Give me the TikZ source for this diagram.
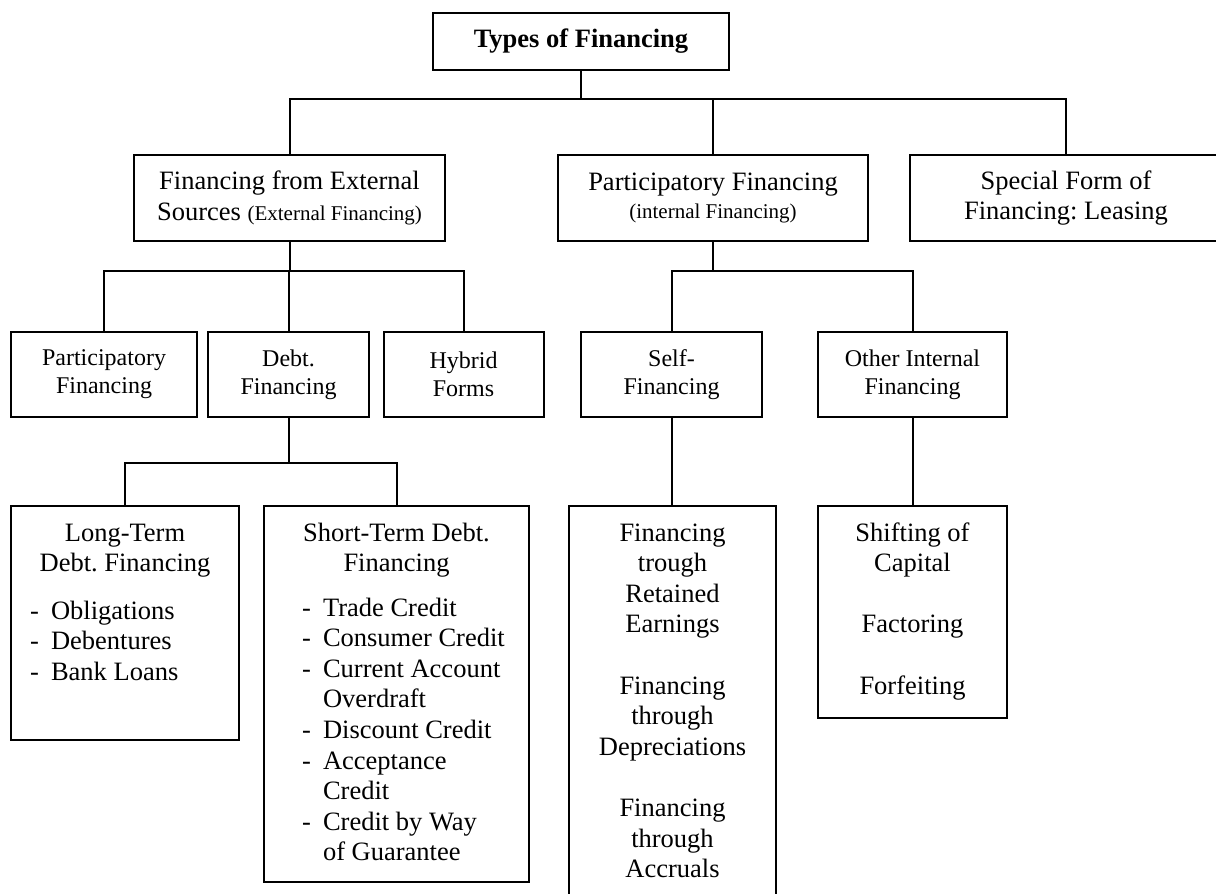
\documentclass[tikz,border=0pt]{standalone}
\usepackage{fontspec}
\setmainfont{Liberation Serif}
\frenchspacing
\newcommand{\toplines}[1]{\begin{tabular}[t]{@{}c@{}}#1\end{tabular}}
\newcommand{\dashlist}[1]{\begin{tabular}[t]{@{}l@{\hspace{12pt}}l@{}}#1\end{tabular}}
\begin{document}
\frenchspacing
\begin{tikzpicture}[x=1pt,y=-1pt,
  box/.style={draw, line width=2pt, inner sep=0pt, align=center},
  conn/.style={line width=2pt},
  big/.style={font=\fontsize{26.5}{30.6}\selectfont},
  mid/.style={font=\fontsize{24}{28}\selectfont},
  txt/.style={inner sep=0pt, big}]
\clip (0,0) rectangle (1216,894);
\fill[white] (0,0) rectangle (1216,894);
% level 1
\node[box, minimum width=296pt, minimum height=57pt, font=\fontsize{26.5}{30.6}\selectfont\bfseries] (top) at (581,41.5) {Types of Financing};
% level 2
\node[box, big, minimum width=311pt, minimum height=86pt] (A) at (289.5,198)
  {Financing from External\\ Sources {\fontsize{21}{24}\selectfont (External Financing)}};
\node[box, big, minimum width=310pt, minimum height=86pt] (B) at (713,198)
  {Participatory Financing\\[-3pt] {\fontsize{21}{24}\selectfont (internal Financing)}};
\node[box, big, minimum width=312pt, minimum height=86pt] (C) at (1066,198)
  {Special Form of\\ Financing: Leasing};
% level 3
\node[box, mid, minimum width=186pt, minimum height=85pt] (P) at (104,374.5) {Participatory\\ Financing};
\node[box, mid, minimum width=161pt, minimum height=85pt] (D) at (288.5,374.5) {Debt.\\ Financing};
\node[box, mid, minimum width=160pt, minimum height=85pt] (H) at (463.5,374.5) {Hybrid\\ Forms};
\node[box, mid, minimum width=181pt, minimum height=85pt] (S) at (671.5,374.5) {Self-\\ Financing};
\node[box, mid, minimum width=189pt, minimum height=85pt] (O) at (912.5,374.5) {Other Internal\\ Financing};
% level 4 boxes
\node[box, minimum width=228pt, minimum height=234pt] (LT) at (125,623) {};
\node[box, minimum width=265pt, minimum height=376pt] (ST) at (396.5,694) {};
\node[box, minimum width=207pt, minimum height=414pt] (SF) at (672.5,713) {};
\node[box, minimum width=189pt, minimum height=212pt] (SH) at (912.5,612) {};
% level 4 texts
\node[txt, anchor=base] (LTh) at (125,541) {\toplines{Long-Term\\ Debt. Financing}};
\node[txt, anchor=base west] (LTl) at (30,619) {\dashlist{- & Obligations\\ - & Debentures\\ - & Bank Loans}};
\node[txt, anchor=base] (STh) at (396.5,541) {\toplines{Short-Term Debt.\\ Financing}};
\node[txt, anchor=base west] (STl) at (302,616) {\dashlist{- & Trade Credit\\ - & Consumer Credit\\ - & Current Account\\ & Overdraft\\ - & Discount Credit\\ - & Acceptance\\ & Credit\\ - & Credit by Way\\ & of Guarantee}};
\node[txt, anchor=base] (SFt) at (672.5,541) {\toplines{Financing\\ trough\\ Retained\\ Earnings\\ \\ Financing\\ through\\ Depreciations\\ \\ Financing\\ through\\ Accruals}};
\node[txt, anchor=base] (SHt) at (912.5,541) {\toplines{Shifting of\\ Capital\\ \\ Factoring\\ \\ Forfeiting}};
% connectors
\path (top.south) ++(0,28) coordinate (j0);
\draw[conn] (top.south) -- (j0);
\draw[conn] (A.north) |- (j0);
\draw[conn] (B.north) |- (j0);
\draw[conn] (C.north) |- (j0);
\path (A.south) ++(0,29) coordinate (j1);
\draw[conn] (A.south) -- (j1);
\draw[conn] (P.north) |- (j1);
\draw[conn] (D.north) |- (j1);
\draw[conn] (H.north) |- (j1);
\path (D.south) ++(0,45) coordinate (j2);
\draw[conn] (D.south) -- (j2);
\draw[conn] (LT.north) |- (j2);
\draw[conn] (ST.north) |- (j2);
\path (B.south) ++(0,29) coordinate (j3);
\draw[conn] (B.south) -- (j3);
\draw[conn] (S.north) |- (j3);
\draw[conn] (O.north) |- (j3);
\draw[conn] (S.south) -- (S.south |- SF.north);
\draw[conn] (O.south) -- (SH.north);
\end{tikzpicture}
\end{document}
